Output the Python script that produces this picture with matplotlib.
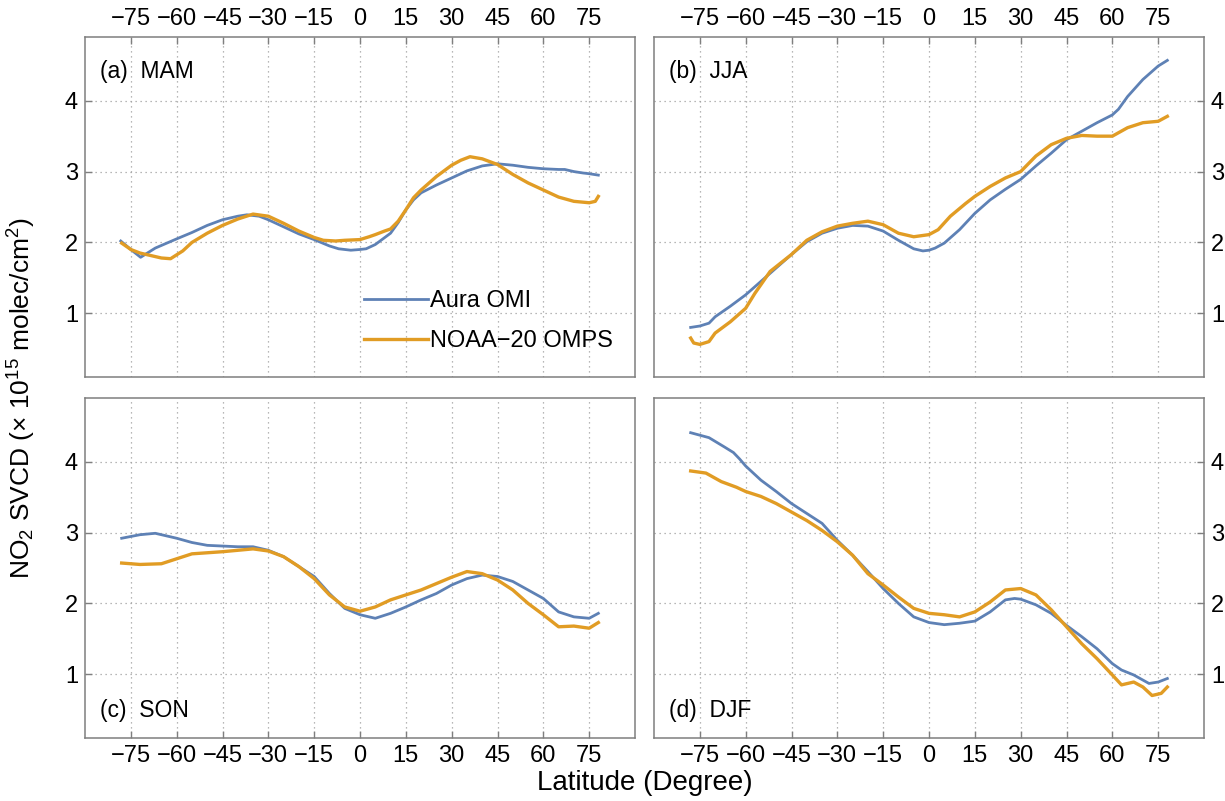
import matplotlib
matplotlib.use("Agg")
import matplotlib.pyplot as plt

plt.rcParams['font.family'] = ['Liberation Sans', 'DejaVu Sans']
plt.rcParams['mathtext.fontset'] = 'custom'
plt.rcParams['mathtext.rm'] = 'Liberation Sans'
plt.rcParams['mathtext.it'] = 'Liberation Sans:italic'

OMI_COLOR = '#5E81B5'
OMPS_COLOR = '#E19C24'

# ---- (a) MAM ----
mam_omi_lat = [-78.3, -75, -71.8, -67, -60, -55, -50, -45, -40, -37, -33, -30, -25, -20, -15,
               -10, -7, -3, 0, 2, 5, 7.5, 10, 12.5, 15, 17.5, 20, 25, 30, 35, 40, 45, 50, 55,
               60, 65, 67, 70, 73, 75, 78]
mam_omi = [2.02, 1.90, 1.79, 1.92, 2.05, 2.14, 2.24, 2.32, 2.37, 2.39, 2.37, 2.32, 2.22, 2.12,
           2.04, 1.95, 1.91, 1.89, 1.90, 1.91, 1.97, 2.05, 2.13, 2.28, 2.46, 2.60, 2.70, 2.81,
           2.91, 3.01, 3.08, 3.11, 3.09, 3.06, 3.04, 3.03, 3.03, 3.00, 2.98, 2.97, 2.95]
mam_omps_lat = [-78, -75, -72, -68, -65, -62, -58, -55, -50, -45, -40, -35, -30, -25, -20, -15,
                -12, -8, -5, 0, 3, 5, 8, 10, 12.5, 15, 17.5, 20, 25, 30, 33, 36, 40, 45, 50,
                55, 60, 65, 70, 75, 77, 78]
mam_omps = [1.99, 1.90, 1.85, 1.81, 1.78, 1.77, 1.88, 2.00, 2.13, 2.24, 2.33, 2.40, 2.37, 2.27,
            2.16, 2.07, 2.03, 2.02, 2.03, 2.04, 2.08, 2.11, 2.16, 2.19, 2.30, 2.46, 2.63, 2.74,
            2.93, 3.09, 3.16, 3.21, 3.18, 3.10, 2.96, 2.84, 2.74, 2.64, 2.58, 2.56, 2.58, 2.65]

# ---- (b) JJA ----
jja_omi_lat = [-78, -75, -72, -70, -65, -60, -55, -50, -45, -40, -35, -30, -25, -20, -15, -10,
               -5, -2, 0, 2, 5, 10, 15, 20, 25, 30, 35, 40, 45, 50, 55, 60, 62, 65, 70, 75, 78]
jja_omi = [0.80, 0.82, 0.86, 0.95, 1.10, 1.26, 1.45, 1.64, 1.83, 2.01, 2.13, 2.20, 2.24, 2.23,
           2.16, 2.03, 1.91, 1.88, 1.89, 1.92, 1.99, 2.18, 2.41, 2.60, 2.75, 2.89, 3.08, 3.26,
           3.45, 3.57, 3.69, 3.80, 3.88, 4.06, 4.30, 4.49, 4.57]
jja_omps_lat = [-78, -77, -75, -72, -70, -65, -60, -57, -52, -45, -40, -35, -30, -25, -20, -15,
                -10, -5, 0, 3, 7, 12, 15, 20, 25, 30, 35, 40, 45, 50, 55, 60, 65, 70, 75, 78]
jja_omps = [0.65, 0.58, 0.56, 0.60, 0.72, 0.88, 1.07, 1.28, 1.59, 1.83, 2.03, 2.15, 2.23, 2.27,
            2.30, 2.25, 2.13, 2.08, 2.11, 2.18, 2.37, 2.55, 2.65, 2.79, 2.91, 3.00, 3.22, 3.38,
            3.47, 3.51, 3.50, 3.50, 3.62, 3.69, 3.71, 3.78]

# ---- (c) SON ----
son_omi_lat = [-78, -72, -67, -60, -55, -50, -45, -40, -35, -30, -25, -20, -15, -10, -5, 0, 5,
               10, 15, 20, 25, 30, 35, 40, 45, 50, 55, 60, 65, 70, 75, 78]
son_omi = [2.92, 2.97, 2.99, 2.92, 2.86, 2.82, 2.81, 2.80, 2.80, 2.75, 2.66, 2.52, 2.38, 2.14,
           1.93, 1.84, 1.79, 1.86, 1.95, 2.05, 2.14, 2.26, 2.35, 2.40, 2.38, 2.31, 2.19, 2.07,
           1.88, 1.81, 1.79, 1.86]
son_omps_lat = [-78, -72, -65, -60, -55, -45, -40, -35, -30, -25, -20, -15, -10, -5, 0, 5, 10,
                15, 20, 25, 30, 35, 40, 45, 50, 55, 60, 65, 70, 75, 78]
son_omps = [2.57, 2.55, 2.56, 2.63, 2.70, 2.73, 2.75, 2.77, 2.74, 2.66, 2.52, 2.35, 2.12, 1.95,
            1.89, 1.95, 2.05, 2.12, 2.19, 2.28, 2.37, 2.45, 2.42, 2.33, 2.19, 2.00, 1.84, 1.67,
            1.68, 1.65, 1.73]

# ---- (d) DJF ----
djf_omi_lat = [-78, -72, -67, -64, -62, -60, -55, -50, -45, -40, -35, -30, -25, -20, -15, -10,
               -5, 0, 5, 10, 15, 20, 25, 28, 30, 35, 40, 45, 50, 55, 60, 63, 67, 72, 75, 78]
djf_omi = [4.41, 4.34, 4.21, 4.13, 4.04, 3.94, 3.74, 3.58, 3.41, 3.27, 3.13, 2.89, 2.68, 2.45,
           2.21, 2.00, 1.81, 1.73, 1.70, 1.72, 1.75, 1.88, 2.05, 2.07, 2.06, 1.98, 1.86, 1.69,
           1.53, 1.36, 1.15, 1.06, 0.99, 0.87, 0.89, 0.94]
djf_omps_lat = [-78, -73, -68, -63, -60, -55, -50, -45, -40, -35, -30, -25, -20, -15, -10, -5, 0,
                5, 10, 15, 20, 25, 30, 35, 40, 45, 50, 55, 60, 63, 67, 70, 73, 76, 78]
djf_omps = [3.87, 3.84, 3.72, 3.64, 3.58, 3.51, 3.41, 3.29, 3.17, 3.03, 2.87, 2.68, 2.42, 2.26,
            2.09, 1.93, 1.86, 1.84, 1.81, 1.88, 2.02, 2.19, 2.21, 2.12, 1.91, 1.67, 1.43, 1.22,
            0.99, 0.85, 0.89, 0.82, 0.70, 0.73, 0.82]

panel_labels = ['(a)  MAM', '(b)  JJA', '(c)  SON', '(d)  DJF']
series = [
    (mam_omi_lat, mam_omi, mam_omps_lat, mam_omps),
    (jja_omi_lat, jja_omi, jja_omps_lat, jja_omps),
    (son_omi_lat, son_omi, son_omps_lat, son_omps),
    (djf_omi_lat, djf_omi, djf_omps_lat, djf_omps),
]
legend_names = ['Aura OMI', 'NOAA\u221220 OMPS']
x_ticks = [-75, -60, -45, -30, -15, 0, 15, 30, 45, 60, 75]
y_ticks = [1, 2, 3, 4]

fig = plt.figure(figsize=(12.25, 8.01), dpi=100)

left_x, right_x, w = 85 / 1225, 654 / 1225, 550 / 1225
top_y, bot_y, h = 1 - 377 / 801, 1 - 738 / 801, 340 / 801
rects = [(left_x, top_y, w, h), (right_x, top_y, w, h),
         (left_x, bot_y, w, h), (right_x, bot_y, w, h)]

frame_col = '#7f7f7f'
for i, (rect, (lo, vo, lp, vp), lab) in enumerate(zip(rects, series, panel_labels)):
    ax = fig.add_axes(rect)
    l1, = ax.plot(lo, vo, color=OMI_COLOR, lw=2.0, solid_joinstyle='round')
    l2, = ax.plot(lp, vp, color=OMPS_COLOR, lw=2.4, solid_joinstyle='round')
    ax.set_xlim(-90, 90)
    ax.set_ylim(0.1, 4.9)
    ax.set_xticks(x_ticks)
    ax.set_xticklabels([f'\u2212{abs(t)}' if t < 0 else str(t) for t in x_ticks])
    ax.set_yticks(y_ticks)
    ax.grid(True, linestyle=(0, (1, 3)), color='#a0a0a0', lw=0.9)
    for sp in ax.spines.values():
        sp.set_color(frame_col)
        sp.set_linewidth(1.1)
    top = i < 2
    right = i % 2 == 1
    ax.tick_params(axis='both', direction='in', length=5, width=1, color=frame_col,
                   labelsize=17, pad=5,
                   top=top, bottom=not top, labeltop=top, labelbottom=not top,
                   left=not right, right=right, labelleft=not right, labelright=right)
    ly = 0.90 if top else 0.08
    ax.text(0.028, ly, lab, transform=ax.transAxes, fontsize=16.5, va='center', ha='left')
    if i == 0:
        ax.legend([l1, l2], legend_names, loc='upper left', bbox_to_anchor=(0.507, 0.255),
                  frameon=False, fontsize=17, handlelength=2.7, handletextpad=0.1,
                  labelspacing=0.75, borderaxespad=0, borderpad=0)

fig.text(645 / 1225, 1 - 783 / 801, 'Latitude (Degree)', ha='center', va='center', fontsize=20)
fig.text(22 / 1225, 1 - 398 / 801,
         r'NO$_2$ SVCD ($\times$ 10$^{15}$ molec/cm$^2$)', rotation=90,
         ha='center', va='center', fontsize=19)

fig.savefig('out.png', dpi=100)
